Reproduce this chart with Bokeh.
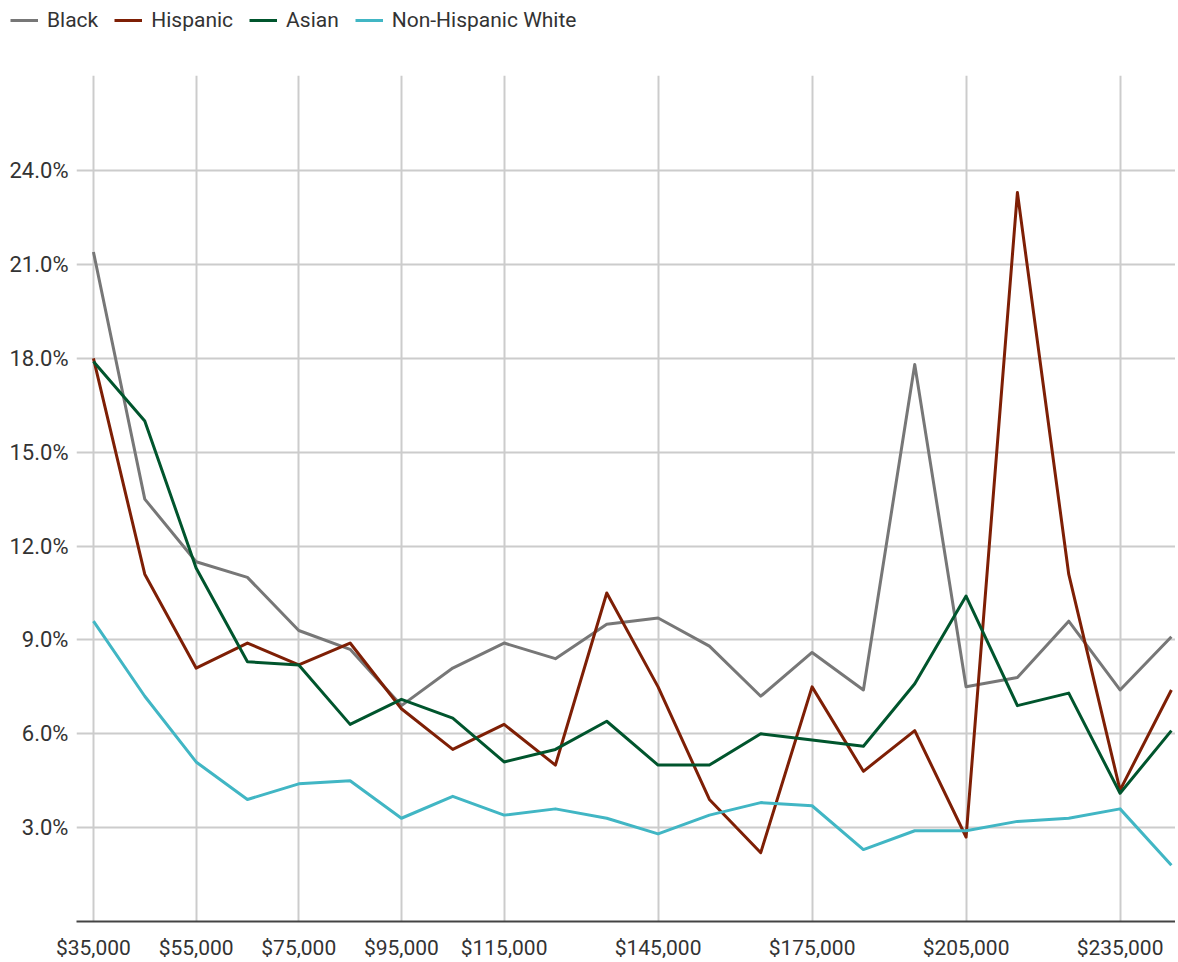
from bokeh.plotting import figure
from bokeh.layouts import column, row
from bokeh.models import (Range1d, FixedTicker, NumeralTickFormatter, PrintfTickFormatter,
                          Legend, LegendItem, ColumnDataSource, Spacer)
from bokeh.embed import file_html
from bokeh.resources import INLINE

incomes = [35000, 45000, 55000, 65000, 75000, 85000, 95000, 105000, 115000, 125000, 135000,
           145000, 155000, 165000, 175000, 185000, 195000, 205000, 215000, 225000, 235000, 245000]

black = [21.4, 13.5, 11.5, 11.0, 9.3, 8.7, 6.9, 8.1, 8.9, 8.4, 9.5,
         9.7, 8.8, 7.2, 8.6, 7.4, 17.8, 7.5, 7.8, 9.6, 7.4, 9.1]
hispanic = [18.0, 11.1, 8.1, 8.9, 8.2, 8.9, 6.8, 5.5, 6.3, 5.0, 10.5,
            7.5, 3.9, 2.2, 7.5, 4.8, 6.1, 2.7, 23.3, 11.1, 4.2, 7.4]
asian = [17.9, 16.0, 11.3, 8.3, 8.2, 6.3, 7.1, 6.5, 5.1, 5.5, 6.4,
         5.0, 5.0, 6.0, 5.8, 5.6, 7.6, 10.4, 6.9, 7.3, 4.1, 6.1]
nh_white = [9.6, 7.2, 5.1, 3.9, 4.4, 4.5, 3.3, 4.0, 3.4, 3.6, 3.3,
            2.8, 3.4, 3.8, 3.7, 2.3, 2.9, 2.9, 3.2, 3.3, 3.6, 1.8]

series_names = ["Black", "Hispanic", "Asian", "Non-Hispanic White"]
series_colors = ["#777777", "#7e1f05", "#00552d", "#41b6c4"]

x_ticks = [35000, 55000, 75000, 95000, 115000, 145000, 175000, 205000, 235000]
y_ticks = [3, 6, 9, 12, 15, 18, 21, 24]

FONT = "Roboto"
TXT = "#333333"

p = figure(width=1169, height=918, output_backend="svg", toolbar_location=None,
           x_range=Range1d(31700, 245800), y_range=Range1d(0, 27.04),
           min_border_left=0, min_border_right=0, min_border_top=31, min_border_bottom=30)
p.outline_line_color = None
p.background_fill_color = "white"
p.border_fill_color = "white"

src = ColumnDataSource(dict(x=incomes, black=black, hispanic=hispanic, asian=asian, white=nh_white))
cols = ["black", "hispanic", "asian", "white"]
for c, color in zip(cols, series_colors):
    p.line("x", c, source=src, line_color=color, line_width=3, line_join="round")

# axes
p.xaxis.ticker = FixedTicker(ticks=x_ticks)
p.xaxis.formatter = NumeralTickFormatter(format="$0,0")
p.xaxis.axis_line_color = "#444444"
p.xaxis.axis_line_width = 2
p.xaxis.major_tick_line_color = None
p.xaxis.minor_tick_line_color = None
p.xaxis.major_tick_out = 0
p.xaxis.major_tick_in = 0
p.xaxis.axis_label_standoff = 0
p.xaxis.major_label_text_font = FONT
p.xaxis.major_label_text_font_size = "21px"
p.xaxis.major_label_text_color = TXT
p.xaxis.major_label_standoff = 14

p.yaxis.ticker = FixedTicker(ticks=y_ticks)
p.yaxis.formatter = PrintfTickFormatter(format="%.1f%%")
p.yaxis.axis_line_color = None
p.yaxis.major_tick_line_color = None
p.yaxis.minor_tick_line_color = None
p.yaxis.major_tick_out = 0
p.yaxis.major_tick_in = 0
p.yaxis.axis_label_standoff = 0
p.yaxis.major_label_text_font = FONT
p.yaxis.major_label_text_font_size = "22px"
p.yaxis.major_label_text_color = TXT
p.yaxis.major_label_standoff = 8

p.xgrid.ticker = FixedTicker(ticks=x_ticks)
p.ygrid.ticker = FixedTicker(ticks=y_ticks)
p.xgrid.grid_line_color = "#cccccc"
p.ygrid.grid_line_color = "#cccccc"
p.xgrid.grid_line_width = 2
p.ygrid.grid_line_width = 2

# legend strip above the plot (its lines lie outside this strip's ranges)
lg = figure(width=1166, height=44, output_backend="svg", toolbar_location=None,
            x_axis_type=None, y_axis_type=None, x_range=Range1d(0, 1), y_range=Range1d(0, 1),
            min_border=0)
lg.outline_line_color = None
lg.xgrid.visible = False
lg.ygrid.visible = False
items = []
for c, name, color in zip(cols, series_names, series_colors):
    r = lg.line("x", c, source=src, line_color=color, line_width=3)
    items.append(LegendItem(label=name, renderers=[r]))
legend = Legend(items=items, orientation="horizontal", location=(10, 12),
                label_text_font=FONT, label_text_font_size="21px", label_text_color=TXT,
                glyph_width=28, glyph_height=20, label_standoff=9, spacing=16,
                padding=0, margin=0, border_line_color=None, background_fill_alpha=0)
lg.add_layout(legend, "center")

layout = column(lg, row(Spacer(width=6, height=10), p, spacing=0), spacing=0)

open("out.html", "w").write(file_html(layout, INLINE))
